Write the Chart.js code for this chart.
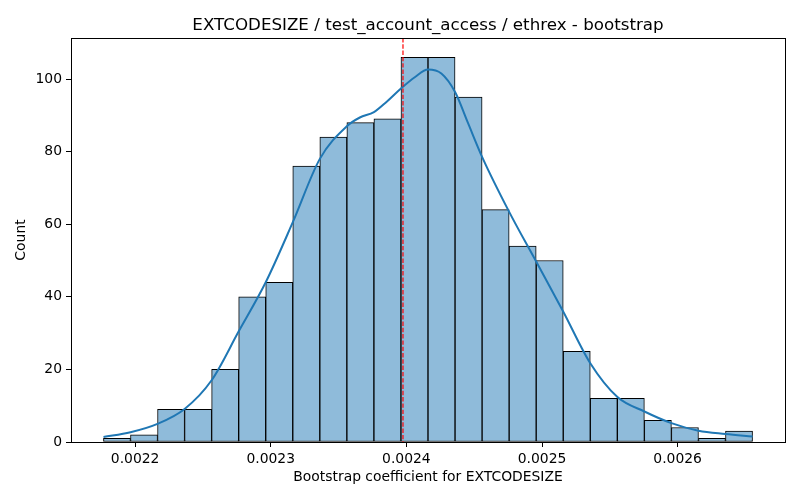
<!DOCTYPE html>
<html lang="en">
<head>
<meta charset="UTF-8">
<title>EXTCODESIZE bootstrap</title>
<script src="https://cdn.jsdelivr.net/npm/chart.js"></script>
<style>
    body {
        margin: 0;
        background: #fff;
    }
    #wrap {
        width: 800px;
        height: 500px;
    }
</style>
</head>
<body>
<div id="wrap"><canvas id="histChart" width="800" height="500"></canvas></div>
<script>
    const chartTitle = "EXTCODESIZE / test_account_access / ethrex - bootstrap";
    const xLabel = "Bootstrap coefficient for EXTCODESIZE";
    const yLabel = "Count";

    // histogram bins (edges) and counts
    const binEdges = [
        0.00217666, 0.00219660, 0.00221654, 0.00223648, 0.00225642,
        0.00227636, 0.00229630, 0.00231624, 0.00233619, 0.00235613,
        0.00237607, 0.00239601, 0.00241595, 0.00243589, 0.00245583,
        0.00247577, 0.00249571, 0.00251565, 0.00253559, 0.00255553,
        0.00257547, 0.00259541, 0.00261535, 0.00263529, 0.00265523
    ];
    const counts = [1, 2, 9, 9, 20, 40, 44, 76, 84, 88, 89, 106, 106, 95, 64, 54, 50, 25, 12, 12, 6, 4, 1, 3];

    // kde curve
    const kdeX = [
        0.0021767, 0.0021966, 0.0022165, 0.0022365, 0.0022564, 0.0022764,
        0.0022963, 0.0023162, 0.0023362, 0.0023561, 0.0023657, 0.0023761,
        0.0023853, 0.0023960, 0.0024062, 0.0024160, 0.0024258, 0.0024359,
        0.0024454, 0.0024559, 0.0024758, 0.0024957, 0.0025157, 0.0025356,
        0.0025556, 0.0025755, 0.0025954, 0.0026154, 0.0026353, 0.0026553
    ];
    const kdeY = [
        1.4, 2.7, 5.0, 9.1, 17.0, 30.5,
        44.0, 60.5, 78.0, 87.0, 89.4, 90.9,
        93.7, 97.4, 100.5, 102.6, 101.5, 96.4,
        87.9, 78.5, 63.4, 49.7, 35.9, 21.7,
        12.4, 8.4, 5.2, 3.1, 2.2, 1.5
    ];

    const meanValue = 0.0023975;
    const xTicks = [0.0022, 0.0023, 0.0024, 0.0025, 0.0026];
    const yTicks = [0, 20, 40, 60, 80, 100];

    const binSpan = binEdges[binEdges.length - 1] - binEdges[0];
    const xMin = binEdges[0] - binSpan * 0.05;
    const xMax = binEdges[binEdges.length - 1] + binSpan * 0.05;
    const yMax = Math.max(...counts) * 1.05;

    const barPoints = counts.map((c, i) => ({ x: (binEdges[i] + binEdges[i + 1]) / 2, y: c }));
    const kdePoints = kdeX.map((x, i) => ({ x: x, y: kdeY[i] }));

    Chart.defaults.font.family = "'DejaVu Sans', sans-serif";
    Chart.defaults.color = "#000";

    const extras = {
        id: "extras",
        afterDatasetsDraw(chart) {
            const { ctx, chartArea, scales } = chart;
            // dashed mean line
            const mx = scales.x.getPixelForValue(meanValue);
            ctx.save();
            ctx.strokeStyle = "#ff0000";
            ctx.lineWidth = 1.2;
            ctx.setLineDash([4.4, 1.9]);
            ctx.beginPath();
            ctx.moveTo(mx, chartArea.top);
            ctx.lineTo(mx, chartArea.bottom);
            ctx.stroke();
            ctx.restore();
            // axes box
            ctx.save();
            ctx.strokeStyle = "#000";
            ctx.lineWidth = 1;
            ctx.strokeRect(Math.round(chartArea.left) + 0.5, Math.round(chartArea.top) + 0.5,
                Math.round(chartArea.right - chartArea.left), Math.round(chartArea.bottom - chartArea.top));
            ctx.restore();
        },
        afterDraw(chart) {
            const { ctx, chartArea } = chart;
            ctx.save();
            ctx.fillStyle = "#000";
            ctx.font = "16.7px 'DejaVu Sans', sans-serif";
            ctx.textAlign = "center";
            ctx.textBaseline = "alphabetic";
            ctx.fillText(chartTitle, (chartArea.left + chartArea.right) / 2, 30);
            ctx.restore();
        }
    };

    const ctx = document.getElementById("histChart").getContext("2d");
    const histChart = new Chart(ctx, {
        type: "bar",
        data: {
            datasets: [
                {
                    type: "line",
                    data: kdePoints,
                    borderColor: "#1f77b4",
                    borderWidth: 2,
                    pointRadius: 0,
                    cubicInterpolationMode: "monotone",
                    fill: false,
                    order: 1
                },
                {
                    type: "bar",
                    data: barPoints,
                    backgroundColor: "rgb(143, 187, 218)",
                    borderColor: "#000",
                    borderWidth: 1,
                    borderSkipped: false,
                    barPercentage: 1,
                    categoryPercentage: 1,
                    order: 2
                }
            ]
        },
        options: {
            responsive: false,
            animation: false,
            devicePixelRatio: 1,
            layout: { padding: { top: 38, right: 15, bottom: 0, left: 0 } },
            plugins: {
                legend: { display: false },
                tooltip: { enabled: false },
                title: { display: false }
            },
            scales: {
                x: {
                    type: "linear",
                    min: xMin,
                    max: xMax,
                    offset: false,
                    grid: { display: true, drawOnChartArea: false, drawTicks: true, tickLength: 5, color: "#000", offset: false },
                    border: { display: true, color: "#000" },
                    ticks: {
                        padding: 4,
                        maxRotation: 0,
                        autoSkip: false,
                        font: { size: 13.9 },
                        callback: v => v.toFixed(4)
                    },
                    afterBuildTicks: s => { s.ticks = xTicks.map(v => ({ value: v })); },
                    afterFit: s => { s.height = 58; },
                    title: {
                        display: true,
                        text: xLabel,
                        font: { size: 13.9 },
                        padding: { top: 0, bottom: 14.7 }
                    }
                },
                y: {
                    min: 0,
                    max: yMax,
                    grid: { display: true, drawOnChartArea: false, drawTicks: true, tickLength: 5, color: "#000" },
                    border: { display: true, color: "#000" },
                    ticks: {
                        padding: 4,
                        font: { size: 13.9 },
                        callback: v => v
                    },
                    afterBuildTicks: s => { s.ticks = yTicks.map(v => ({ value: v })); },
                    afterFit: s => { s.width = 71; },
                    title: {
                        display: true,
                        text: yLabel,
                        font: { size: 13.9 },
                        padding: { top: 12.7, bottom: 0 }
                    }
                }
            }
        },
        plugins: [extras]
    });
</script>
</body>
</html>
